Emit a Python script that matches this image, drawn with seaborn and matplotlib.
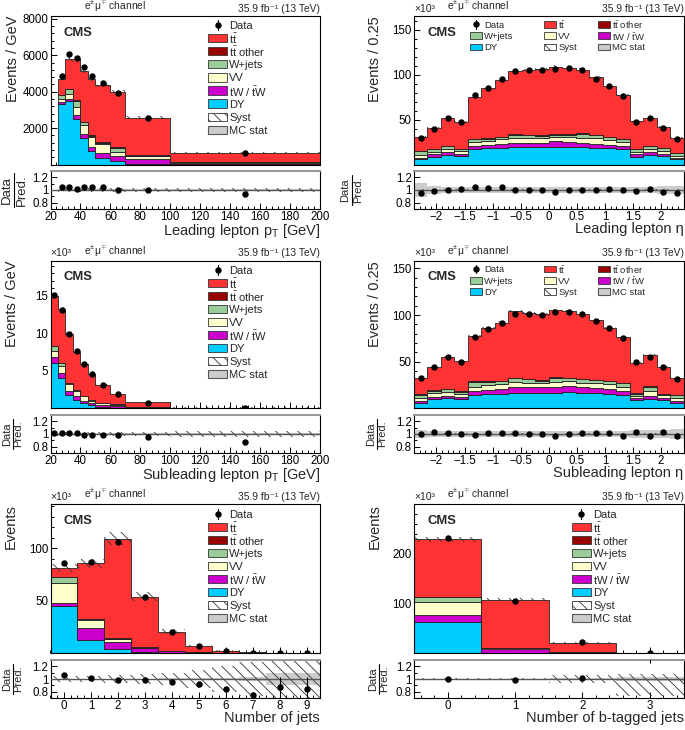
import numpy as np
import pandas as pd
import matplotlib
matplotlib.use("Agg")
import matplotlib.pyplot as plt
import seaborn as sns
from matplotlib.patches import Rectangle
from matplotlib.lines import Line2D
from matplotlib.ticker import MultipleLocator, FixedLocator, FuncFormatter

# ------------------------------------------------------------------ data
PROCS = ["tt", "ttother", "wjets", "vv", "tw", "dy"]
LABELS = {"tt": r"$\mathrm{t\bar{t}}$", "ttother": r"$\mathrm{t\bar{t}}$ other",
          "wjets": "W+jets", "vv": "VV", "tw": r"tW / $\mathrm{\bar{t}}$W", "dy": "DY",
          "data": "Data", "syst": "Syst", "stat": "MC stat"}

# Panel 1: leading lepton pT  (events / GeV)
lpt_edges = [25, 30, 35, 40, 45, 50, 60, 70, 100, 200]
lpt_tt = [860, 1605, 2255, 2770, 3080, 3115, 3065, 2070, 512]
lpt_ttother = [30, 40, 40, 40, 40, 40, 40, 30, 20]
lpt_wjets = [200, 255, 325, 150, 70, 75, 185, 35, 5]
lpt_vv = [185, 255, 480, 510, 515, 510, 270, 150, 15]
lpt_tw = [115, 125, 220, 220, 235, 270, 275, 255, 100]
lpt_dy = [3300, 3490, 2480, 1440, 750, 350, 165, 35, 5]
lpt_data = [4870, 6050, 5850, 5350, 4870, 4500, 3930, 2530, 620]
lpt_ratio = [1.05, 1.05, 1.01, 1.05, 1.05, 1.04, 0.995, 0.995, 0.94]
lpt_ratio_err = [0, 0, 0, 0, 0, 0, 0, 0, 0.01]
lpt_syst = [0.025] * 9
lpt_stat = [0.01] * 9

# Panel 2: leading lepton eta  (x10^3 events / 0.25)
eta_edges = [-2.4, -2.16, -1.92, -1.68, -1.44, -1.2, -0.96, -0.72, -0.48, -0.24, 0.0,
             0.24, 0.48, 0.72, 0.96, 1.2, 1.44, 1.68, 1.92, 2.16, 2.4]
leta_tt = [15.5, 23.3, 30.9, 30.0, 47.3, 56.1, 62.6, 70.3, 72.0, 73.7,
           74.8, 73.3, 71.0, 63.7, 55.9, 48.4, 30.3, 31.2, 23.6, 16.9]
leta_ttother = [0.4] * 20
leta_wjets = [4.4, 3.0, 3.7, 1.8, 3.0, 2.2, 2.7, 3.7, 3.0, 2.6,
              2.6, 2.6, 4.1, 3.7, 3.7, 3.0, 3.0, 3.7, 2.6, 3.0]
leta_vv = [3.0, 2.5, 3.0, 3.0, 4.1, 4.1, 4.7, 5.2, 5.2, 5.3,
           5.1, 5.2, 5.6, 5.6, 4.8, 4.8, 2.6, 3.3, 3.0, 1.9]
leta_tw = [1.8, 3.0, 3.0, 2.9, 4.0, 4.4, 4.8, 5.1, 5.1, 5.1,
           5.6, 5.2, 5.1, 4.8, 4.4, 3.7, 3.0, 3.0, 3.3, 1.8]
leta_dy = [5.6, 8.5, 11.0, 9.3, 16.7, 17.8, 18.5, 19.3, 19.3, 18.9,
           20.0, 20.0, 19.3, 18.5, 17.8, 16.7, 8.5, 10.4, 8.9, 5.6]
leta_data = [30, 40, 51.5, 47, 77, 85.5, 94.5, 104, 104.5, 105,
             106, 107, 105, 95.5, 87.5, 76.5, 47, 51.5, 41, 28.5]
leta_ratio = [0.95, 0.99, 0.995, 1.02, 1.04, 1.03, 1.04, 1.0, 0.995, 0.995,
              0.975, 1.005, 1.005, 0.995, 1.015, 0.995, 0.99, 1.02, 0.975, 0.96]
leta_syst = [0.015] * 20
leta_stat = [0.11, 0.06, 0.05, 0.05, 0.045, 0.045, 0.045, 0.045, 0.045, 0.045,
             0.045, 0.045, 0.045, 0.045, 0.045, 0.045, 0.05, 0.055, 0.06, 0.065]

# Panel 3: subleading lepton pT  (x10^3 events / GeV)
spt_edges = [20, 25, 30, 35, 40, 45, 50, 60, 70, 100, 200]
spt_tt = [6.54, 7.15, 6.5, 5.12, 4.23, 3.43, 2.37, 1.33, 0.56, 0.085]
spt_ttother = [0.1, 0.05, 0.04, 0.05, 0.02, 0.02, 0.02, 0.02, 0.01, 0.002]
spt_wjets = [0.66, 0.4, 0.16, 0.14, 0.08, 0.15, 0.05, 0.05, 0.02, 0.003]
spt_vv = [0.8, 0.9, 0.94, 0.66, 0.54, 0.3, 0.25, 0.15, 0.08, 0.015]
spt_tw = [0.7, 0.7, 0.46, 0.45, 0.36, 0.3, 0.2, 0.25, 0.1, 0.02]
spt_dy = [6.1, 4.0, 1.8, 1.15, 0.7, 0.4, 0.25, 0.1, 0.03, 0.005]
spt_data = [15.1, 13.1, 9.9, 7.6, 5.9, 4.6, 3.14, 1.9, 0.78, 0.12]
spt_ratio = [1.02, 1.02, 1.02, 1.02, 0.99, 0.99, 0.98, 0.98, 0.955, 0.875]
spt_ratio_err = [0, 0, 0, 0, 0, 0, 0, 0, 0.005, 0.01]
spt_syst = [0.025] * 8 + [0.03, 0.04]
spt_stat = [0.01] * 10

# Panel 4: subleading lepton eta  (x10^3 events / 0.25)
seta_tt = [18.0, 24.6, 34.1, 32.3, 48.3, 56.5, 62.1, 71.3, 69.8, 70.8,
           72.0, 71.6, 69.3, 63.7, 55.8, 49.4, 32.7, 33.2, 29.0, 17.6]
seta_ttother = [0.4] * 20
seta_wjets = [3.2, 2.0, 2.9, 2.5, 5.4, 3.6, 3.6, 4.3, 3.9, 2.8,
              4.2, 3.2, 3.6, 3.5, 3.6, 3.6, 2.1, 4.3, 0.7, 2.9]
seta_vv = [3.2, 5.0, 4.2, 3.2, 4.6, 5.4, 5.4, 5.3, 5.0, 4.3,
           5.4, 5.4, 5.0, 5.4, 5.4, 4.3, 2.9, 6.1, 2.9, 3.2]
seta_tw = [2.1, 2.2, 2.9, 2.5, 4.3, 4.6, 5.0, 5.7, 6.1, 6.1,
           6.4, 6.4, 5.7, 5.3, 5.0, 4.6, 1.8, 2.8, 2.5, 2.1]
seta_dy = [6.3, 9.8, 10.9, 9.8, 14.5, 15.2, 15.5, 17.0, 16.6, 16.6,
           17.0, 17.3, 17.0, 16.3, 15.5, 14.5, 9.1, 10.2, 9.1, 6.3]
seta_data = [33, 44, 55, 50, 77, 85.5, 92, 101, 101.5, 100,
             103, 103.5, 101, 94, 86, 76, 50, 55, 44.5, 32]
seta_ratio = [1.0, 1.03, 1.02, 1.005, 0.99, 1.015, 1.01, 1.01, 1.0, 0.995,
              0.975, 1.0, 1.02, 1.02, 1.01, 0.965, 1.035, 0.965, 1.025, 0.965]
seta_syst = [0.015] * 20
seta_stat = [0.06, 0.05, 0.05, 0.05, 0.045, 0.045, 0.045, 0.045, 0.045, 0.045,
             0.045, 0.045, 0.045, 0.045, 0.045, 0.05, 0.06, 0.07, 0.07, 0.08]

# Panel 5: number of jets  (x10^3 events)
nj_edges = [-0.5, 0.5, 1.5, 2.5, 3.5, 4.5, 5.5, 6.5, 7.5, 8.5, 9.5]
nj_tt = [8.6, 52.9, 94.6, 48.1, 18.1, 6.17, 1.94, 0.51, 0.127, 0.033]
nj_ttother = [0.3, 0.6, 0.9, 0.5, 0.3, 0.15, 0.05, 0.02, 0.005, 0.002]
nj_wjets = [5.5, 0.7, 0.4, 0.1, 0.1, 0.03, 0.01, 0.003, 0.001, 0.0]
nj_vv = [18.5, 7.9, 2.9, 0.6, 0.4, 0.15, 0.05, 0.015, 0.004, 0.001]
nj_tw = [2.8, 11.2, 6.4, 3.2, 1.2, 0.4, 0.12, 0.04, 0.01, 0.003]
nj_dy = [45.2, 12.4, 3.8, 1.3, 0.3, 0.1, 0.03, 0.01, 0.003, 0.001]
nj_data = [85.7, 87, 106, 53.2, 19.7, 6.4, 1.9, 0.47, 0.13, 0.035]
nj_ratio = [1.06, 1.01, 0.98, 0.98, 0.95, 0.925, 0.845, 0.74, 0.87, 0.835]
nj_ratio_err = [0, 0, 0, 0, 0.005, 0.01, 0.02, 0.05, 0.16, 0.2]
nj_syst = [0.05, 0.05, 0.06, 0.08, 0.1, 0.14, 0.2, 0.27, 0.32, 0.32]
nj_stat = [0.004, 0.004, 0.004, 0.005, 0.01, 0.015, 0.02, 0.03, 0.1, 0.1]

# Panel 6: number of b-tagged jets  (x10^3 events)
nb_edges = [-0.5, 0.5, 1.5, 2.5, 3.5]
nb_tt = [115.8, 97.0, 18.1, 0.6]
nb_ttother = [0.5, 1.0, 0.5, 0.05]
nb_wjets = [10.0, 0.4, 0.05, 0.0]
nb_vv = [27.0, 1.0, 0.1, 0.0]
nb_tw = [13.6, 8.0, 1.5, 0.05]
nb_dy = [62.8, 0.6, 0.05, 0.0]
nb_data = [231.8, 104.7, 21.6, 0.5]
nb_ratio = [1.0, 0.98, 1.02, 1.5]
nb_ratio_err = [0, 0, 0.005, 0.24]
nb_syst_up = [0.02, 0.02, 0.065, 0.085]
nb_syst_dn = [0.02, 0.02, 0.065, 0.27]
nb_stat = [0.004, 0.005, 0.01, 0.03]

# ------------------------------------------------------------------ style
sns.set_theme(style="ticks")
plt.rcParams["font.family"] = ["Liberation Sans", "DejaVu Sans"]
plt.rcParams["mathtext.fontset"] = "custom"
plt.rcParams["mathtext.rm"] = "Liberation Sans"
plt.rcParams["mathtext.it"] = "Liberation Sans:italic"
plt.rcParams["mathtext.bf"] = "Liberation Sans:bold"
plt.rcParams["hatch.linewidth"] = 0.6
plt.rcParams["hatch.color"] = "#333333"
plt.rcParams["axes.edgecolor"] = "black"
plt.rcParams["axes.linewidth"] = 0.8

COLORS = {"tt": "#FF3333", "ttother": "#990000", "wjets": "#99CC99",
          "vv": "#FFFFCC", "tw": "#CC00CC", "dy": "#00CCFF"}
EDGE = "#222222"
HATCH = "\\\\\\"
HATCHC = "#333333"
STATC = "#CCCCCC"

W, H = 685, 730
fig = plt.figure(figsize=(W / 100, H / 100), dpi=100)
fig.patch.set_facecolor("white")


def add_ax(x0, y0, x1, y1):
    ax = fig.add_axes([x0 / W, 1 - y1 / H, (x1 - x0) / W, (y1 - y0) / H])
    ax._px = (x0, y0, x1, y1)
    return ax


def px(v):
    return v * 0.72


def fx(ax, v):
    x0, y0, x1, y1 = ax._px
    return (v - x0) / (x1 - x0)


def fy(ax, v):
    x0, y0, x1, y1 = ax._px
    return 1 - (v - y0) / (y1 - y0)


MINUS = FuncFormatter(lambda v, p: f"{v:g}".replace("-", "\u2212"))


def draw(main, rat, edges, layers, data, ratio, ratio_err, syst_up, syst_dn, stat):
    edge_list = [float(e) for e in edges]
    edges = np.asarray(edge_list)
    centers = 0.5 * (edges[:-1] + edges[1:])
    rows = []
    for p in PROCS:
        for c, v in zip(centers, layers[p]):
            rows.append({"x": c, "w": v, "proc": p})
    df = pd.DataFrame(rows)
    sns.histplot(data=df, x="x", weights="w", hue="proc", hue_order=PROCS,
                 palette=COLORS, bins=edge_list, multiple="stack", element="step",
                 alpha=1, edgecolor=EDGE, linewidth=0.6, legend=False, ax=main)
    total = np.sum([np.asarray(layers[p], float) for p in PROCS], axis=0)
    up = np.asarray(syst_up, float)
    dn = np.asarray(syst_dn, float)
    main.stairs(total * (1 + up), edges, baseline=total * (1 - dn), fill=True,
                facecolor="none", edgecolor=HATCHC, hatch=HATCH, linewidth=0, zorder=4)
    main.errorbar(centers, data, yerr=np.zeros(len(data)), fmt="o", ms=3.6,
                  color="black", elinewidth=0.8, capsize=0, zorder=6)
    st = np.asarray(stat, float)
    rat.stairs(1 + st, edges, baseline=1 - st, fill=True, color=STATC, linewidth=0, zorder=1)
    rat.stairs(1 + up, edges, baseline=1 - dn, fill=True, facecolor="none",
               edgecolor=HATCHC, hatch=HATCH, linewidth=0, zorder=2)
    rat.axhline(1, color="#555555", lw=1.0, zorder=3)
    rat.errorbar(centers, ratio, yerr=ratio_err, fmt="o", ms=3.6, color="black",
                 elinewidth=0.8, capsize=0, zorder=6)


def legend_entry(ax, key, bx, yc, bw, bh, fs, tgap):
    """One legend row at pixel position: handle box left edge bx, row centre yc."""
    x0, y0, x1, y1 = ax._px
    if key == "data":
        xc = bx + bw / 2
        ax.add_line(Line2D([fx(ax, xc)] * 2, [fy(ax, yc - bh / 2 - 1), fy(ax, yc + bh / 2 + 1)],
                           transform=ax.transAxes, color="black", lw=0.8, clip_on=False))
        ax.add_line(Line2D([fx(ax, xc)], [fy(ax, yc)], marker="o", ms=3.6, color="black",
                           transform=ax.transAxes, clip_on=False))
    else:
        if key == "syst":
            kw = dict(facecolor="white", edgecolor=HATCHC, hatch=HATCH, linewidth=0.6)
        elif key == "stat":
            kw = dict(facecolor=STATC, edgecolor="#555555", linewidth=0.8)
        else:
            kw = dict(facecolor=COLORS[key], edgecolor="#333333", linewidth=0.6)
        ax.add_patch(Rectangle((fx(ax, bx), fy(ax, yc + bh / 2)), bw / (x1 - x0), bh / (y1 - y0),
                               transform=ax.transAxes, clip_on=False, **kw))
    ax.text(fx(ax, bx + bw + tgap), fy(ax, yc), LABELS[key], transform=ax.transAxes,
            fontsize=fs, ha="left", va="center_baseline")


ORDER = ["data"] + PROCS + ["syst", "stat"]


def column_legend(ax, bx, y_first, dy):
    for i, k in enumerate(ORDER):
        legend_entry(ax, k, bx, y_first + i * dy, 18.5, 8.3, 8.0, 2.5)


def grid_legend(ax, xs, y_first, dy):
    cols = [["data", "wjets", "dy"], ["tt", "vv", "syst"], ["ttother", "tw", "stat"]]
    for col, bx in zip(cols, xs):
        for i, k in enumerate(col):
            legend_entry(ax, k, bx, y_first + i * dy, 12, 6.5, 6.8, 2.2)


def ratio_label(rat, xd, xl, xp, size, length):
    """Data / Pred. fraction drawn as two rotated texts and a bar (pixel x centres)."""
    x0, y0, x1, y1 = rat._px
    rat.text(fx(rat, xd), 0.5, "Data", rotation=90, ha="center", va="center",
             transform=rat.transAxes, fontsize=size, clip_on=False)
    rat.text(fx(rat, xp), 0.5, "Pred.", rotation=90, ha="center", va="center",
             transform=rat.transAxes, fontsize=size, clip_on=False)
    half = length / 2 / (y1 - y0)
    rat.add_line(Line2D([fx(rat, xl)] * 2, [0.5 - half, 0.5 + half], transform=rat.transAxes,
                        color="black", lw=0.8, clip_on=False))


def style(main, rat, xlim, ylim, yticks, yminor, xmajor, xminor, xlabel, ylabel,
          ylab_x, x10=True, fmt=None):
    for ax in (main, rat):
        ax.set_xlim(*xlim)
        ax.xaxis.set_major_locator(MultipleLocator(xmajor))
        ax.xaxis.set_minor_locator(MultipleLocator(xminor))
        ax.tick_params(which="both", direction="in", top=False, right=False,
                       width=0.7, labelsize=8.3, pad=1.5, colors="black")
        ax.tick_params(which="major", length=4.5)
        ax.tick_params(which="minor", length=2.3)
        for s in ax.spines.values():
            s.set_color("black")
            s.set_linewidth(0.8)
        ax.set_facecolor("white")
    if fmt is not None:
        rat.xaxis.set_major_formatter(fmt)
    main.set_ylim(*ylim)
    main.yaxis.set_major_locator(FixedLocator(yticks))
    main.yaxis.set_minor_locator(MultipleLocator(yminor))
    main.yaxis.set_major_formatter(FuncFormatter(lambda v, p: f"{v:g}"))
    main.tick_params(labelbottom=False)
    main.set_xlabel("")
    main.set_ylabel(ylabel, fontsize=10.5, loc="top", labelpad=0)
    main.yaxis.set_label_coords(ylab_x, 1.0)
    rat.set_ylim(0.7, 1.3)
    rat.yaxis.set_major_locator(FixedLocator([0.8, 1.0, 1.2]))
    rat.yaxis.set_minor_locator(MultipleLocator(0.1))
    rat.yaxis.set_major_formatter(FuncFormatter(lambda v, p: f"{v:g}"))
    rat.spines["top"].set_color("#999999")
    rat.spines["top"].set_linewidth(1.5)
    rat.set_xlabel(xlabel, fontsize=10.5, loc="right", labelpad=0)
    rat.xaxis.set_label_coords(1.0, -0.35)
    rat.set_ylabel("")
    # header texts
    main.annotate("e$^{\\pm}$\u03bc$^{\\mp}$ channel", xy=(0, 1), xycoords="axes fraction",
                  xytext=(px(33), px(1.5)), textcoords="offset points",
                  ha="left", va="bottom", fontsize=7.4)
    main.annotate("35.9 fb\u207b\u00b9 (13 TeV)", xy=(1, 1), xycoords="axes fraction",
                  xytext=(0, px(2.5)), textcoords="offset points",
                  ha="right", va="bottom", fontsize=7.4)
    if x10:
        main.annotate("\u00d710\u00b3", xy=(0, 1), xycoords="axes fraction",
                      xytext=(0, px(2.5)), textcoords="offset points",
                      ha="left", va="bottom", fontsize=7.5)
    main.annotate("CMS", xy=(0, 1), xycoords="axes fraction",
                  xytext=(px(13), -px(10.5)), textcoords="offset points",
                  ha="left", va="top", fontsize=9.4, fontweight="bold")


LX = (50.5, 320)
RX = (414, 683.5)

# ---------------- Panel 1
m1 = add_ax(LX[0], 16, LX[1], 164.5)
r1 = add_ax(LX[0], 171, LX[1], 209)
draw(m1, r1, lpt_edges,
     {"tt": lpt_tt, "ttother": lpt_ttother, "wjets": lpt_wjets, "vv": lpt_vv,
      "tw": lpt_tw, "dy": lpt_dy},
     lpt_data, lpt_ratio, lpt_ratio_err, lpt_syst, lpt_syst, lpt_stat)
style(m1, r1, (20, 200), (0, 8160), [2000, 4000, 6000, 8000], 400, 20, 4,
      r"Leading lepton p$_\mathrm{T}$ [GeV]", "Events / GeV", -0.113, x10=False)
ratio_label(r1, 6.5, 13.5, 21.5, 9.5, 34)
column_legend(m1, 208.3, 25.0, 13.1)

# ---------------- Panel 2
m2 = add_ax(RX[0], 16, RX[1], 164.5)
r2 = add_ax(RX[0], 171, RX[1], 209)
draw(m2, r2, eta_edges,
     {"tt": leta_tt, "ttother": leta_ttother, "wjets": leta_wjets, "vv": leta_vv,
      "tw": leta_tw, "dy": leta_dy},
     leta_data, leta_ratio, [0] * 20, leta_syst, leta_syst, leta_stat)
style(m2, r2, (-2.4, 2.4), (0, 165), [50, 100, 150], 10, 0.5, 0.1,
      "Leading lepton \u03b7", "Events / 0.25", -0.119, fmt=MINUS)
ratio_label(r2, 345.0, 351.5, 358.0, 8.0, 30)
grid_legend(m2, (470, 544, 598), 24.3, 11.35)

# ---------------- Panel 3
m3 = add_ax(LX[0], 261, LX[1], 408.5)
r3 = add_ax(LX[0], 415, LX[1], 453)
draw(m3, r3, spt_edges,
     {"tt": spt_tt, "ttother": spt_ttother, "wjets": spt_wjets, "vv": spt_vv,
      "tw": spt_tw, "dy": spt_dy},
     spt_data, spt_ratio, spt_ratio_err, spt_syst, spt_syst, spt_stat)
style(m3, r3, (20, 200), (0, 19.6), [5, 10, 15], 1, 20, 4,
      r"Subleading lepton p$_\mathrm{T}$ [GeV]", "Events / GeV", -0.117)
ratio_label(r3, 7.0, 12.7, 18.5, 8.0, 30)
column_legend(m3, 208.3, 270.0, 13.0)

# ---------------- Panel 4
m4 = add_ax(RX[0], 261, RX[1], 408.5)
r4 = add_ax(RX[0], 415, RX[1], 453)
draw(m4, r4, eta_edges,
     {"tt": seta_tt, "ttother": seta_ttother, "wjets": seta_wjets, "vv": seta_vv,
      "tw": seta_tw, "dy": seta_dy},
     seta_data, seta_ratio, [0] * 20, seta_syst, seta_syst, seta_stat)
style(m4, r4, (-2.4, 2.4), (0, 158), [50, 100, 150], 10, 0.5, 0.1,
      "Subleading lepton \u03b7", "Events / 0.25", -0.119, fmt=MINUS)
ratio_label(r4, 371.0, 376.5, 382.0, 8.0, 30)
grid_legend(m4, (470, 544, 598), 269.0, 11.35)

# ---------------- Panel 5
m5 = add_ax(LX[0], 504, LX[1], 653)
r5 = add_ax(LX[0], 660, LX[1], 698)
draw(m5, r5, nj_edges,
     {"tt": nj_tt, "ttother": nj_ttother, "wjets": nj_wjets, "vv": nj_vv,
      "tw": nj_tw, "dy": nj_dy},
     nj_data, nj_ratio, nj_ratio_err, nj_syst, nj_syst, nj_stat)
style(m5, r5, (-0.5, 9.5), (0, 142), [50, 100], 10, 1, 0.25,
      "Number of jets", "Events", -0.12)
ratio_label(r5, 7.0, 12.7, 18.5, 8.0, 30)
column_legend(m5, 208.3, 514.0, 12.96)

# ---------------- Panel 6
m6 = add_ax(RX[0], 504, RX[1], 653)
r6 = add_ax(RX[0], 660, RX[1], 698)
draw(m6, r6, nb_edges,
     {"tt": nb_tt, "ttother": nb_ttother, "wjets": nb_wjets, "vv": nb_vv,
      "tw": nb_tw, "dy": nb_dy},
     nb_data, nb_ratio, nb_ratio_err, nb_syst_up, nb_syst_dn, nb_stat)
style(m6, r6, (-0.5, 3.5), (0, 301), [100, 200], 20, 1, 0.2,
      "Number of b-tagged jets", "Events", -0.119)
ratio_label(r6, 373.0, 378.5, 384.0, 8.0, 30)
column_legend(m6, 572.0, 514.0, 12.96)

fig.savefig("out.png", dpi=100, facecolor="white")
